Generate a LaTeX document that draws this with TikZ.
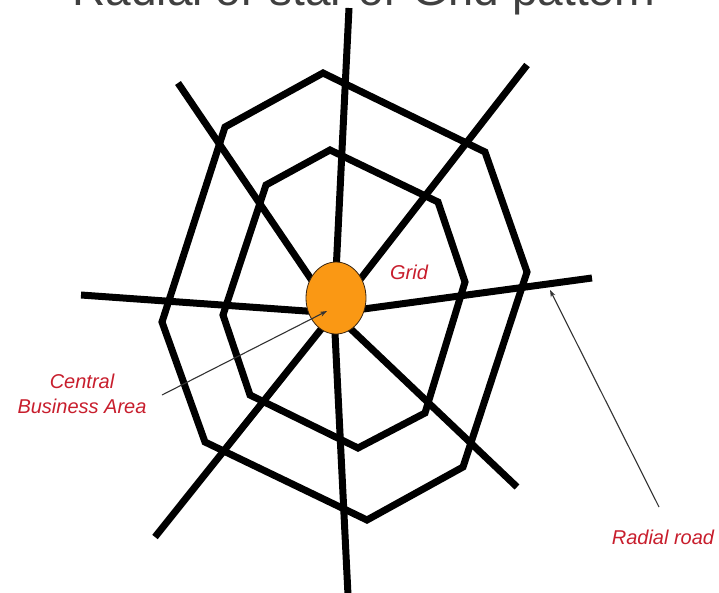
\documentclass[tikz,border=0pt]{standalone}
\usepackage{fontspec}
\setmainfont{Liberation Sans}
\usetikzlibrary{arrows.meta,shapes.geometric}
\definecolor{lblred}{RGB}{200,30,45}
\definecolor{cbdorange}{RGB}{250,152,20}
\begin{document}
\begin{tikzpicture}[x=1pt,y=-1pt,
  road/.style={line width=7pt, line cap=butt},
  ring/.style={line width=7pt, line join=miter},
  lbl/.style={text=lblred, font=\itshape\fontsize{20}{25}\selectfont, inner sep=0pt},
  pointer/.style={line width=1.1pt, draw=black!80, -{Stealth[length=7pt,width=5pt]}}]
\useasboundingbox (0,0) rectangle (719,592);
\fill[white] (0,0) rectangle (719,592);
% cut-off title (only its lowest part shows, as in the reference)
\node[anchor=base, font=\fontsize{46}{50}\selectfont, text=black!75, inner sep=0pt] (title) at (364,5) {Radial or star or Grid pattern};
% hub and radial road ends
\coordinate (hub) at (334,313);
\coordinate (rN) at (349,8);
\coordinate (rNE) at (527,65);
\coordinate (rE) at (592,278);
\coordinate (rSE) at (517,487);
\coordinate (rS) at (348,595);
\coordinate (rSW) at (155,537);
\coordinate (rW) at (81,295);
\coordinate (rNW) at (178,83);
% outer ring
\coordinate (o1) at (323,73);
\coordinate (o2) at (225,127);
\coordinate (o3) at (162,322);
\coordinate (o4) at (205,442);
\coordinate (o5) at (367,520);
\coordinate (o6) at (463,467);
\coordinate (o7) at (527,272);
\coordinate (o8) at (485,152);
% inner ring
\coordinate (i1) at (330,150);
\coordinate (i2) at (266,185);
\coordinate (i3) at (223,315);
\coordinate (i4) at (250,395);
\coordinate (i5) at (358,448);
\coordinate (i6) at (425,413);
\coordinate (i7) at (465,282);
\coordinate (i8) at (438,202);
\draw[ring] (o1) -- (o2) -- (o3) -- (o4) -- (o5) -- (o6) -- (o7) -- (o8) -- cycle;
\draw[ring] (i1) -- (i2) -- (i3) -- (i4) -- (i5) -- (i6) -- (i7) -- (i8) -- cycle;
\foreach \r in {rN,rNE,rE,rSE,rS,rSW,rW,rNW}
  \draw[road] (\r) -- (hub);
% central business area
\node[ellipse, draw=black!70!brown, line width=0.8pt, fill=cbdorange, minimum width=60pt, minimum height=72pt, inner sep=0pt] (cbd) at (336,298) {};
% labels
\node[lbl] (grid) at (409,272) {Grid};
\node[lbl, align=center] (cbalbl) at (82,394) {Central\\Business Area};
\node[lbl] (radlbl) at (663,537) {Radial road};
% pointers
\coordinate (cbatail) at (162,395);
\coordinate (cbatip) at (327,311);
\coordinate (radtail) at (659,507);
\coordinate (radtip) at (550,290);
\draw[pointer] (cbatail) -- (cbatip);
\draw[pointer] (radtail) -- (radtip);
\end{tikzpicture}
\end{document}
